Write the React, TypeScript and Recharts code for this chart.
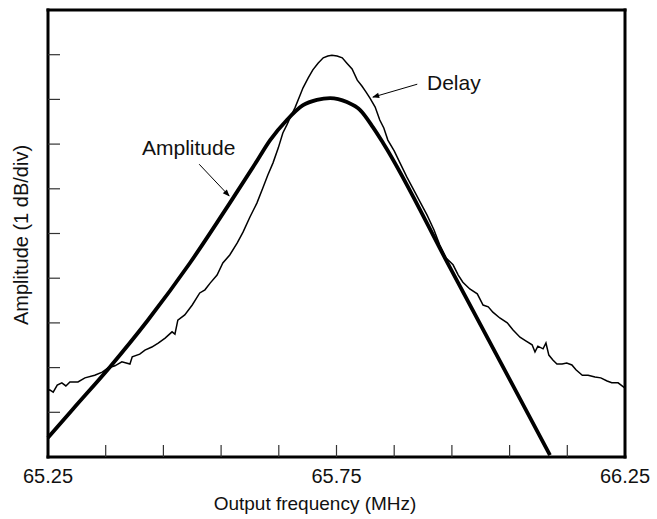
import React from "react";
import { LineChart, Line, XAxis, YAxis, ReferenceLine } from "recharts";

// Output frequency (MHz) / amplitude (dB, 1 dB per division)
const ampFreq = [
  65.25, 65.293, 65.357, 65.423, 65.496, 65.565, 65.609, 65.635, 65.664, 65.692,
  65.716, 65.739, 65.768, 65.791, 65.813, 65.831, 65.947, 66.033, 66.12,
];
const ampLevel = [
  0.43, 1.07, 2.01, 3.06, 4.34, 5.68, 6.56, 7.09, 7.54, 7.87,
  7.99, 8.03, 7.94, 7.76, 7.38, 7.02, 4.23, 2.15, 0.04,
];

// Delay trace (noisy measurement)
const delayFreq = [
  65.25, 65.253, 65.259, 65.266, 65.274, 65.281, 65.288, 65.302, 65.314, 65.331,
  65.344, 65.354, 65.366, 65.378, 65.392, 65.396, 65.409, 65.418, 65.43, 65.441,
  65.453, 65.465, 65.47, 65.475, 65.487, 65.5, 65.513, 65.522, 65.531, 65.543,
  65.553, 65.565, 65.578, 65.588, 65.6, 65.612, 65.623, 65.631, 65.64, 65.649,
  65.657, 65.664, 65.671, 65.678, 65.687, 65.692, 65.701, 65.709, 65.718, 65.727,
  65.735, 65.742, 65.751, 65.76, 65.768, 65.777, 65.786, 65.794, 65.801, 65.808,
  65.817, 65.825, 65.832, 65.839, 65.85, 65.86, 65.872, 65.884, 65.895, 65.907,
  65.919, 65.929, 65.94, 65.952, 65.961, 65.969, 65.981, 65.994, 66.004, 66.013,
  66.021, 66.033, 66.046, 66.056, 66.068, 66.078, 66.089, 66.094, 66.099, 66.108,
  66.113, 66.118, 66.125, 66.132, 66.141, 66.149, 66.158, 66.165, 66.176, 66.186,
  66.198, 66.208, 66.219, 66.227, 66.238, 66.245, 66.25,
];
const delayLevel = [
  1.48, 1.5, 1.45, 1.61, 1.66, 1.59, 1.68, 1.68, 1.77, 1.83,
  1.9, 1.99, 2.04, 2.13, 2.08, 2.24, 2.3, 2.39, 2.46, 2.55,
  2.66, 2.8, 2.75, 3.06, 3.18, 3.4, 3.67, 3.74, 3.89, 4.07,
  4.34, 4.52, 4.79, 5.03, 5.37, 5.68, 6.04, 6.31, 6.58, 6.91,
  7.25, 7.43, 7.63, 7.81, 8.1, 8.26, 8.48, 8.66, 8.81, 8.93,
  8.97, 8.99, 8.97, 8.93, 8.81, 8.68, 8.43, 8.3, 8.17, 8.03,
  7.83, 7.54, 7.36, 7.09, 6.85, 6.58, 6.26, 5.97, 5.7, 5.41,
  5.08, 4.74, 4.45, 4.3, 4.07, 3.91, 3.76, 3.65, 3.4, 3.36,
  3.24, 3.11, 3.0, 2.84, 2.68, 2.6, 2.51, 2.35, 2.48, 2.42,
  2.55, 2.28, 2.17, 2.08, 2.08, 2.1, 2.06, 1.95, 1.83, 1.83,
  1.79, 1.77, 1.7, 1.66, 1.66, 1.59, 1.54,
];

const xTicks = [65.25, 65.35, 65.45, 65.55, 65.65, 65.75, 65.85, 65.95, 66.05, 66.15, 66.25];
const xLabelled = [65.25, 65.75, 66.25];
const yTicks = [1, 2, 3, 4, 5, 6, 7, 8, 9];

const ampData = ampFreq.map((f, i) => ({ f, v: ampLevel[i] }));
const delayData = delayFreq.map((f, i) => ({ f, v: delayLevel[i] }));

const FONT = "'Liberation Sans', Arial, Helvetica, sans-serif";
const frame = { stroke: "#000", strokeWidth: 3, strokeLinecap: "square" as const };
const tickLine = { stroke: "#333", strokeWidth: 1.2 };
const hidden = () => "";

export default function App() {
  return (
    <div style={{ position: "absolute", left: 0, top: 0, width: 657, height: 519, background: "#fff" }}>
      <LineChart
        width={657}
        height={519}
        margin={{ top: 9, right: 31, bottom: 61, left: 47 }}
      >
        <defs>
          <marker id="arrowHead" viewBox="0 0 10 10" refX="9" refY="5" markerWidth="9" markerHeight="7" orient="auto">
            <path d="M0,1 L10,5 L0,9 z" fill="#000" />
          </marker>
        </defs>
        <XAxis
          xAxisId="bottom"
          type="number"
          dataKey="f"
          domain={[65.25, 66.25]}
          ticks={xTicks}
          interval={0}
          height={1}
          axisLine={frame}
          tickLine={tickLine}
          tickSize={-12}
          tickMargin={24}
          tickFormatter={(v: number) => (xLabelled.some((l) => Math.abs(l - v) < 1e-6) ? v.toFixed(2) : "")}
          tick={{ fontSize: 20, fill: "#111", fontFamily: FONT }}
        />
        <XAxis
          xAxisId="top"
          orientation="top"
          type="number"
          dataKey="f"
          domain={[65.25, 66.25]}
          ticks={xTicks}
          interval={0}
          height={1}
          axisLine={frame}
          tickLine={tickLine}
          tickSize={-12}
          tickFormatter={hidden}
        />
        <YAxis
          yAxisId="left"
          type="number"
          domain={[0, 10]}
          ticks={yTicks}
          interval={0}
          width={1}
          axisLine={frame}
          tickLine={tickLine}
          tickSize={-12}
          tickFormatter={hidden}
        />
        <YAxis
          yAxisId="right"
          orientation="right"
          type="number"
          domain={[0, 10]}
          ticks={yTicks}
          interval={0}
          width={1}
          axisLine={frame}
          tickLine={tickLine}
          tickSize={-12}
          tickFormatter={hidden}
        />
        <Line
          xAxisId="bottom"
          yAxisId="left"
          data={delayData}
          dataKey="v"
          type="linear"
          stroke="#000"
          strokeWidth={1.5}
          dot={false}
          isAnimationActive={false}
        />
        <Line
          xAxisId="bottom"
          yAxisId="left"
          data={ampData}
          dataKey="v"
          type="monotone"
          stroke="#000"
          strokeWidth={3.8}
          dot={false}
          isAnimationActive={false}
        />
        {/* annotation arrows */}
        <ReferenceLine
          xAxisId="bottom"
          yAxisId="left"
          segment={[{ x: 65.512, y: 6.55 }, { x: 65.564, y: 5.84 }]}
          stroke="#000"
          strokeWidth={1}
          markerEnd="url(#arrowHead)"
        />
        <ReferenceLine
          xAxisId="bottom"
          yAxisId="left"
          segment={[{ x: 65.89, y: 8.34 }, { x: 65.813, y: 8.05 }]}
          stroke="#000"
          strokeWidth={1}
          markerEnd="url(#arrowHead)"
        />
      </LineChart>
      <svg
        width={657}
        height={519}
        style={{ position: "absolute", left: 0, top: 0, pointerEvents: "none" }}
        fontFamily={FONT}
        fill="#111"
      >
        <text x={142} y={155} fontSize={21}>Amplitude</text>
        <text x={427} y={90} fontSize={21}>Delay</text>
        <text x={315} y={510} fontSize={19} textAnchor="middle">Output frequency (MHz)</text>
        <text x={28} y={235} fontSize={20} textAnchor="middle" transform="rotate(-90 28 235)">
          Amplitude (1 dB/div)
        </text>
      </svg>
    </div>
  );
}
